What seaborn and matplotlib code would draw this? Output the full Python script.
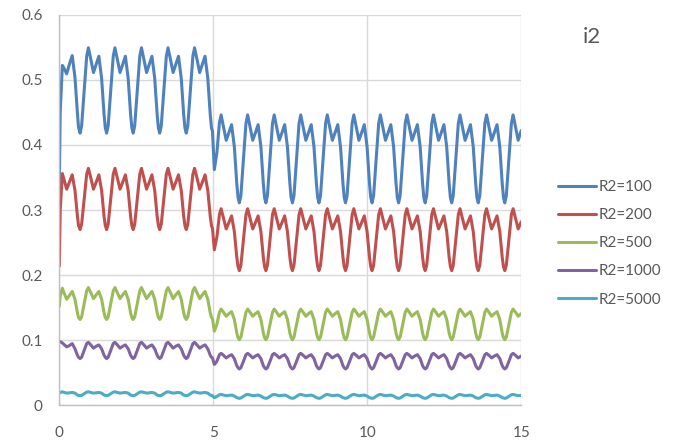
import matplotlib
matplotlib.use("Agg")
import matplotlib.pyplot as plt
import seaborn as sns
import pandas as pd

# ---------------- data ----------------
series_names = ["R2=100", "R2=200", "R2=500", "R2=1000", "R2=5000"]
series_colors = ["#4F81BD", "#C0504D", "#9BBB59", "#8064A2", "#4BACC6"]

x_ticks = [0, 5, 10, 15]
x_ticklabels = ["0", "5", "10", "15"]
y_ticks = [0, 0.1, 0.2, 0.3, 0.4, 0.5, 0.6]
y_ticklabels = ["0", "0.1", "0.2", "0.3", "0.4", "0.5", "0.6"]
chart_title = "i2"

t_vals = [
    0.000, 0.030, 0.100, 0.170, 0.240, 0.330, 0.420, 0.510, 0.590, 0.625,
    0.675, 0.725, 0.810, 0.890, 0.945, 1.025, 1.110, 1.200, 1.285, 1.375, 1.455, 1.495,
    1.537, 1.587, 1.672, 1.752, 1.807, 1.887, 1.972, 2.062, 2.147, 2.237, 2.317, 2.357,
    2.399, 2.449, 2.534, 2.614, 2.669, 2.749, 2.834, 2.924, 3.009, 3.099, 3.179, 3.219,
    3.261, 3.311, 3.396, 3.476, 3.531, 3.611, 3.696, 3.786, 3.871, 3.961, 4.041, 4.081,
    4.123, 4.173, 4.258, 4.338, 4.393, 4.473, 4.558, 4.648, 4.733, 4.823, 4.903, 4.943,
    4.975,
    5.035, 5.120, 5.200, 5.255, 5.335, 5.420, 5.510, 5.595, 5.685, 5.765, 5.805,
    5.847, 5.897, 5.982, 6.062, 6.117, 6.197, 6.282, 6.372, 6.457, 6.547, 6.627, 6.667,
    6.709, 6.759, 6.844, 6.924, 6.979, 7.059, 7.144, 7.234, 7.319, 7.409, 7.489, 7.529,
    7.571, 7.621, 7.706, 7.786, 7.841, 7.921, 8.006, 8.096, 8.181, 8.271, 8.351, 8.391,
    8.433, 8.483, 8.568, 8.648, 8.703, 8.783, 8.868, 8.958, 9.043, 9.133, 9.213, 9.253,
    9.295, 9.345, 9.430, 9.510, 9.565, 9.645, 9.730, 9.820, 9.905, 9.995, 10.075, 10.115,
    10.157, 10.207, 10.292, 10.372, 10.427, 10.507, 10.592, 10.682, 10.767, 10.857, 10.937, 10.977,
    11.019, 11.069, 11.154, 11.234, 11.289, 11.369, 11.454, 11.544, 11.629, 11.719, 11.799, 11.839,
    11.881, 11.931, 12.016, 12.096, 12.151, 12.231, 12.316, 12.406, 12.491, 12.581, 12.661, 12.701,
    12.743, 12.793, 12.878, 12.958, 13.013, 13.093, 13.178, 13.268, 13.353, 13.443, 13.523, 13.563,
    13.605, 13.655, 13.740, 13.820, 13.875, 13.955, 14.040, 14.130, 14.215, 14.305, 14.385, 14.425,
    14.467, 14.517, 14.602, 14.682, 14.737, 14.817, 14.902, 15.000,
]

i2_r100 = [
    0.330, 0.450, 0.522, 0.516, 0.509, 0.524, 0.537, 0.503, 0.448, 0.427,
    0.418, 0.429, 0.484, 0.536, 0.549, 0.531, 0.511, 0.524, 0.536, 0.502, 0.446, 0.426,
    0.418, 0.429, 0.484, 0.536, 0.549, 0.531, 0.511, 0.524, 0.536, 0.502, 0.446, 0.426,
    0.418, 0.429, 0.484, 0.536, 0.549, 0.531, 0.511, 0.524, 0.536, 0.502, 0.446, 0.426,
    0.418, 0.429, 0.484, 0.536, 0.549, 0.531, 0.511, 0.524, 0.536, 0.502, 0.446, 0.426,
    0.418, 0.429, 0.484, 0.536, 0.549, 0.531, 0.511, 0.524, 0.536, 0.502, 0.446, 0.426,
    0.421,
    0.362, 0.389, 0.434, 0.446, 0.427, 0.407, 0.419, 0.431, 0.397, 0.340, 0.319,
    0.311, 0.322, 0.379, 0.433, 0.446, 0.427, 0.407, 0.419, 0.431, 0.397, 0.340, 0.319,
    0.311, 0.322, 0.379, 0.433, 0.446, 0.427, 0.407, 0.419, 0.431, 0.397, 0.340, 0.319,
    0.311, 0.322, 0.379, 0.433, 0.446, 0.427, 0.407, 0.419, 0.431, 0.397, 0.340, 0.319,
    0.311, 0.322, 0.379, 0.433, 0.446, 0.427, 0.407, 0.419, 0.431, 0.397, 0.340, 0.319,
    0.311, 0.322, 0.379, 0.433, 0.446, 0.427, 0.407, 0.419, 0.431, 0.397, 0.340, 0.319,
    0.311, 0.322, 0.379, 0.433, 0.446, 0.427, 0.407, 0.419, 0.431, 0.397, 0.340, 0.319,
    0.311, 0.322, 0.379, 0.433, 0.446, 0.427, 0.407, 0.419, 0.431, 0.397, 0.340, 0.319,
    0.311, 0.322, 0.379, 0.433, 0.446, 0.427, 0.407, 0.419, 0.431, 0.397, 0.340, 0.319,
    0.311, 0.322, 0.379, 0.433, 0.446, 0.427, 0.407, 0.419, 0.431, 0.397, 0.340, 0.319,
    0.311, 0.322, 0.379, 0.433, 0.446, 0.427, 0.407, 0.419, 0.431, 0.397, 0.340, 0.319,
    0.311, 0.322, 0.379, 0.433, 0.446, 0.427, 0.407, 0.422,
]

i2_r200 = [
    0.214, 0.300, 0.356, 0.344, 0.332, 0.343, 0.354, 0.330, 0.290, 0.276,
    0.270, 0.278, 0.317, 0.355, 0.364, 0.349, 0.332, 0.343, 0.354, 0.330, 0.290, 0.276,
    0.270, 0.278, 0.317, 0.355, 0.364, 0.349, 0.332, 0.343, 0.354, 0.330, 0.290, 0.276,
    0.270, 0.278, 0.317, 0.355, 0.364, 0.349, 0.332, 0.343, 0.354, 0.330, 0.290, 0.276,
    0.270, 0.278, 0.317, 0.355, 0.364, 0.349, 0.332, 0.343, 0.354, 0.330, 0.290, 0.276,
    0.270, 0.278, 0.317, 0.355, 0.364, 0.349, 0.332, 0.343, 0.354, 0.330, 0.290, 0.276,
    0.272,
    0.239, 0.259, 0.293, 0.302, 0.287, 0.271, 0.281, 0.291, 0.267, 0.227, 0.213,
    0.207, 0.215, 0.255, 0.293, 0.302, 0.287, 0.271, 0.281, 0.291, 0.267, 0.227, 0.213,
    0.207, 0.215, 0.255, 0.293, 0.302, 0.287, 0.271, 0.281, 0.291, 0.267, 0.227, 0.213,
    0.207, 0.215, 0.255, 0.293, 0.302, 0.287, 0.271, 0.281, 0.291, 0.267, 0.227, 0.213,
    0.207, 0.215, 0.255, 0.293, 0.302, 0.287, 0.271, 0.281, 0.291, 0.267, 0.227, 0.213,
    0.207, 0.215, 0.255, 0.293, 0.302, 0.287, 0.271, 0.281, 0.291, 0.267, 0.227, 0.213,
    0.207, 0.215, 0.255, 0.293, 0.302, 0.287, 0.271, 0.281, 0.291, 0.267, 0.227, 0.213,
    0.207, 0.215, 0.255, 0.293, 0.302, 0.287, 0.271, 0.281, 0.291, 0.267, 0.227, 0.213,
    0.207, 0.215, 0.255, 0.293, 0.302, 0.287, 0.271, 0.281, 0.291, 0.267, 0.227, 0.213,
    0.207, 0.215, 0.255, 0.293, 0.302, 0.287, 0.271, 0.281, 0.291, 0.267, 0.227, 0.213,
    0.207, 0.215, 0.255, 0.293, 0.302, 0.287, 0.271, 0.281, 0.291, 0.267, 0.227, 0.213,
    0.207, 0.215, 0.255, 0.293, 0.302, 0.287, 0.271, 0.282,
]

i2_r500 = [
    0.152, 0.168, 0.180, 0.171, 0.163, 0.169, 0.175, 0.163, 0.142, 0.135,
    0.132, 0.136, 0.157, 0.176, 0.181, 0.173, 0.164, 0.170, 0.175, 0.163, 0.142, 0.135,
    0.132, 0.136, 0.157, 0.176, 0.181, 0.173, 0.164, 0.170, 0.175, 0.163, 0.142, 0.135,
    0.132, 0.136, 0.157, 0.176, 0.181, 0.173, 0.164, 0.170, 0.175, 0.163, 0.142, 0.135,
    0.132, 0.136, 0.157, 0.176, 0.181, 0.173, 0.164, 0.170, 0.175, 0.163, 0.142, 0.135,
    0.132, 0.136, 0.157, 0.176, 0.181, 0.173, 0.164, 0.170, 0.175, 0.163, 0.142, 0.135,
    0.133,
    0.114, 0.125, 0.143, 0.148, 0.143, 0.137, 0.141, 0.144, 0.132, 0.111, 0.104,
    0.101, 0.105, 0.125, 0.143, 0.148, 0.143, 0.137, 0.141, 0.144, 0.132, 0.111, 0.104,
    0.101, 0.105, 0.125, 0.143, 0.148, 0.143, 0.137, 0.141, 0.144, 0.132, 0.111, 0.104,
    0.101, 0.105, 0.125, 0.143, 0.148, 0.143, 0.137, 0.141, 0.144, 0.132, 0.111, 0.104,
    0.101, 0.105, 0.125, 0.143, 0.148, 0.143, 0.137, 0.141, 0.144, 0.132, 0.111, 0.104,
    0.101, 0.105, 0.125, 0.143, 0.148, 0.143, 0.137, 0.141, 0.144, 0.132, 0.111, 0.104,
    0.101, 0.105, 0.125, 0.143, 0.148, 0.143, 0.137, 0.141, 0.144, 0.132, 0.111, 0.104,
    0.101, 0.105, 0.125, 0.143, 0.148, 0.143, 0.137, 0.141, 0.144, 0.132, 0.111, 0.104,
    0.101, 0.105, 0.125, 0.143, 0.148, 0.143, 0.137, 0.141, 0.144, 0.132, 0.111, 0.104,
    0.101, 0.105, 0.125, 0.143, 0.148, 0.143, 0.137, 0.141, 0.144, 0.132, 0.111, 0.104,
    0.101, 0.105, 0.125, 0.143, 0.148, 0.143, 0.137, 0.141, 0.144, 0.132, 0.111, 0.104,
    0.101, 0.105, 0.125, 0.143, 0.148, 0.143, 0.137, 0.141,
]

i2_r1000 = [
    0.098, 0.098, 0.096, 0.093, 0.090, 0.092, 0.095, 0.087, 0.077, 0.074,
    0.072, 0.074, 0.085, 0.095, 0.097, 0.093, 0.088, 0.091, 0.093, 0.087, 0.077, 0.074,
    0.072, 0.074, 0.085, 0.095, 0.097, 0.093, 0.088, 0.091, 0.093, 0.087, 0.077, 0.074,
    0.072, 0.074, 0.085, 0.095, 0.097, 0.093, 0.088, 0.091, 0.093, 0.087, 0.077, 0.074,
    0.072, 0.074, 0.085, 0.095, 0.097, 0.093, 0.088, 0.091, 0.093, 0.087, 0.077, 0.074,
    0.072, 0.074, 0.085, 0.095, 0.097, 0.093, 0.088, 0.091, 0.093, 0.087, 0.077, 0.074,
    0.073,
    0.063, 0.068, 0.078, 0.080, 0.077, 0.073, 0.076, 0.078, 0.072, 0.061, 0.058,
    0.056, 0.058, 0.068, 0.078, 0.080, 0.077, 0.073, 0.076, 0.078, 0.072, 0.061, 0.058,
    0.056, 0.058, 0.068, 0.078, 0.080, 0.077, 0.073, 0.076, 0.078, 0.072, 0.061, 0.058,
    0.056, 0.058, 0.068, 0.078, 0.080, 0.077, 0.073, 0.076, 0.078, 0.072, 0.061, 0.058,
    0.056, 0.058, 0.068, 0.078, 0.080, 0.077, 0.073, 0.076, 0.078, 0.072, 0.061, 0.058,
    0.056, 0.058, 0.068, 0.078, 0.080, 0.077, 0.073, 0.076, 0.078, 0.072, 0.061, 0.058,
    0.056, 0.058, 0.068, 0.078, 0.080, 0.077, 0.073, 0.076, 0.078, 0.072, 0.061, 0.058,
    0.056, 0.058, 0.068, 0.078, 0.080, 0.077, 0.073, 0.076, 0.078, 0.072, 0.061, 0.058,
    0.056, 0.058, 0.068, 0.078, 0.080, 0.077, 0.073, 0.076, 0.078, 0.072, 0.061, 0.058,
    0.056, 0.058, 0.068, 0.078, 0.080, 0.077, 0.073, 0.076, 0.078, 0.072, 0.061, 0.058,
    0.056, 0.058, 0.068, 0.078, 0.080, 0.077, 0.073, 0.076, 0.078, 0.072, 0.061, 0.058,
    0.056, 0.058, 0.068, 0.078, 0.080, 0.077, 0.073, 0.076,
]

i2_r5000 = [
    0.019, 0.020, 0.021, 0.020, 0.019, 0.0195, 0.020, 0.019, 0.016, 0.0155,
    0.015, 0.0155, 0.018, 0.0205, 0.021, 0.020, 0.019, 0.0195, 0.020, 0.019, 0.016, 0.0155,
    0.015, 0.0155, 0.018, 0.0205, 0.021, 0.020, 0.019, 0.0195, 0.020, 0.019, 0.016, 0.0155,
    0.015, 0.0155, 0.018, 0.0205, 0.021, 0.020, 0.019, 0.0195, 0.020, 0.019, 0.016, 0.0155,
    0.015, 0.0155, 0.018, 0.0205, 0.021, 0.020, 0.019, 0.0195, 0.020, 0.019, 0.016, 0.0155,
    0.015, 0.0155, 0.018, 0.0205, 0.021, 0.020, 0.019, 0.0195, 0.020, 0.019, 0.016, 0.0155,
    0.015,
    0.012, 0.014, 0.0165, 0.017, 0.016, 0.015, 0.0155, 0.016, 0.0145, 0.012, 0.0115,
    0.011, 0.0115, 0.014, 0.0165, 0.017, 0.016, 0.015, 0.0155, 0.016, 0.0145, 0.012, 0.0115,
    0.011, 0.0115, 0.014, 0.0165, 0.017, 0.016, 0.015, 0.0155, 0.016, 0.0145, 0.012, 0.0115,
    0.011, 0.0115, 0.014, 0.0165, 0.017, 0.016, 0.015, 0.0155, 0.016, 0.0145, 0.012, 0.0115,
    0.011, 0.0115, 0.014, 0.0165, 0.017, 0.016, 0.015, 0.0155, 0.016, 0.0145, 0.012, 0.0115,
    0.011, 0.0115, 0.014, 0.0165, 0.017, 0.016, 0.015, 0.0155, 0.016, 0.0145, 0.012, 0.0115,
    0.011, 0.0115, 0.014, 0.0165, 0.017, 0.016, 0.015, 0.0155, 0.016, 0.0145, 0.012, 0.0115,
    0.011, 0.0115, 0.014, 0.0165, 0.017, 0.016, 0.015, 0.0155, 0.016, 0.0145, 0.012, 0.0115,
    0.011, 0.0115, 0.014, 0.0165, 0.017, 0.016, 0.015, 0.0155, 0.016, 0.0145, 0.012, 0.0115,
    0.011, 0.0115, 0.014, 0.0165, 0.017, 0.016, 0.015, 0.0155, 0.016, 0.0145, 0.012, 0.0115,
    0.011, 0.0115, 0.014, 0.0165, 0.017, 0.016, 0.015, 0.0155, 0.016, 0.0145, 0.012, 0.0115,
    0.011, 0.0115, 0.014, 0.0165, 0.017, 0.016, 0.015, 0.0155,
]

# ---------------- build long table ----------------
series_values = [i2_r100, i2_r200, i2_r500, i2_r1000, i2_r5000]
frames = []
for name, vals in zip(series_names, series_values):
    n = min(len(t_vals), len(vals))
    frames.append(pd.DataFrame({"t": t_vals[:n], "i2": vals[:n], "series": name}))
df = pd.concat(frames, ignore_index=True)

# ---------------- plot ----------------
sns.set_theme(style="white")
plt.rcParams["font.family"] = ["Lato", "DejaVu Sans"]

fig = plt.figure(figsize=(6.76, 4.41), dpi=100)
ax = fig.add_axes([0.0877, 0.0805, 0.771 - 0.0877, 0.967 - 0.0805])

sns.lineplot(data=df, x="t", y="i2", hue="series", hue_order=series_names,
             palette=series_colors, estimator=None, sort=False,
             linewidth=2.2, ax=ax)
for ln in ax.get_lines():
    ln.set_solid_joinstyle("round")
    ln.set_solid_capstyle("round")

ax.set_xlim(0, 15)
ax.set_ylim(0, 0.6)
ax.set_xticks(x_ticks)
ax.set_xticklabels(x_ticklabels)
ax.set_yticks(y_ticks)
ax.set_yticklabels(y_ticklabels)
ax.set_xlabel("")
ax.set_ylabel("")

ax.grid(True, color="#d9d9d9", linewidth=1.0)
ax.set_axisbelow(True)
for side in ["top", "right"]:
    ax.spines[side].set_visible(False)
for side in ["left", "bottom"]:
    ax.spines[side].set_color("#bfbfbf")
    ax.spines[side].set_linewidth(1.0)

ax.tick_params(axis="both", length=0, labelsize=11, labelcolor="#595959")
ax.tick_params(axis="x", pad=15)
ax.tick_params(axis="y", pad=12)

leg = ax.legend(loc="center left", bbox_to_anchor=(0.825, 0.448),
                bbox_transform=fig.transFigure, frameon=False,
                borderpad=0, borderaxespad=0, handlelength=2.5,
                handletextpad=0.2, labelspacing=0.92, fontsize=11)
for txt in leg.get_texts():
    txt.set_color("#595959")
for line in leg.get_lines():
    line.set_linewidth(2.2)

fig.text(0.875, 0.917, chart_title, fontsize=16, color="#595959",
         ha="center", va="center")

fig.savefig("out.png", dpi=100)
